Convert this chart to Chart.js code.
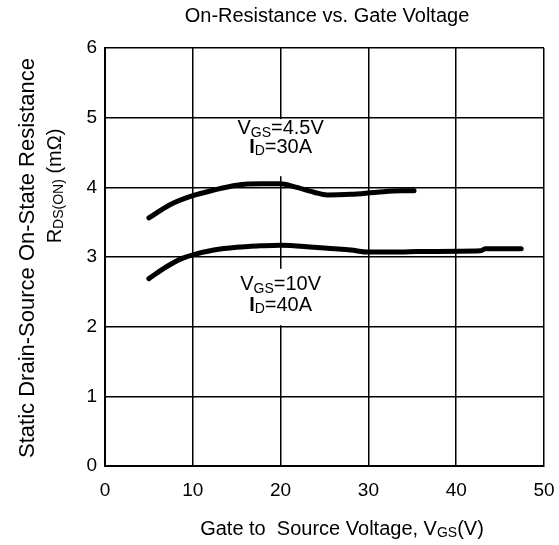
<!DOCTYPE html>
<html>
<head>
<meta charset="utf-8">
<script src="https://cdn.jsdelivr.net/npm/chart.js@4"></script>
<style>
  html, body { margin: 0; padding: 0; background: #fff; }
  #wrap { width: 559px; height: 545px; }
</style>
</head>
<body>
<div id="wrap"><canvas id="chart" width="559" height="545"></canvas></div>
<script>
// values
const vgs45_x = [5, 7.4, 10, 12.4, 15, 17.7, 20, 21.5, 23.8, 25.3, 28, 31, 33.7, 35.2];
const vgs45_r = [3.56, 3.75, 3.88, 3.96, 4.03, 4.05, 4.05, 4.01, 3.93, 3.89, 3.90, 3.93, 3.95, 3.95];

const vgs10_x = [5, 7, 8.6, 10, 12.4, 15, 17.7, 20, 23.8, 28, 30, 33.7, 35.6, 42.8, 43.3, 47.4];
const vgs10_r = [2.69, 2.86, 2.97, 3.03, 3.10, 3.14, 3.16, 3.17, 3.14, 3.10, 3.07, 3.07, 3.08, 3.09, 3.12, 3.12];

const xTicks = [0, 10, 20, 30, 40, 50];
const yTicks = [0, 1, 2, 3, 4, 5, 6];

const FONT = "'Liberation Sans', Arial, sans-serif";

const chartTitle = "On-Resistance vs. Gate Voltage";

// curve labels (text parts, with subscripts)
const curveLabels = [
  { x: 20, top: 4.98, bottom: 4.16, lines: [
    [{ t: "V" }, { t: "GS", sub: true }, { t: "=4.5V" }],
    [{ t: "I", bold: true }, { t: "D", sub: true }, { t: "=30A" }],
  ], base: [4.76, 4.5] },
  { x: 20, top: 2.83, bottom: 2.02, lines: [
    [{ t: "V" }, { t: "GS", sub: true }, { t: "=10V" }],
    [{ t: "I", bold: true }, { t: "D", sub: true }, { t: "=40A" }],
  ], base: [2.52, 2.23] },
];

function toPoints(xs, ys) {
  return xs.map((x, i) => ({ x: x, y: ys[i] }));
}

function fontFor(p, size) {
  const s = p.sub ? Math.round(size * 0.68) : size;
  return (p.bold ? "bold " : "") + s + "px " + FONT;
}

// draw text with subscripts, centred on cx
function drawRich(ctx, parts, cx, baseline, size) {
  let width = 0;
  parts.forEach((p) => {
    ctx.font = fontFor(p, size);
    width += ctx.measureText(p.t).width;
  });
  let x = cx - width / 2;
  ctx.textAlign = "left";
  ctx.textBaseline = "alphabetic";
  parts.forEach((p) => {
    ctx.font = fontFor(p, size);
    ctx.fillText(p.t, x, baseline + (p.sub ? size * 0.12 : 0));
    x += ctx.measureText(p.t).width;
  });
}

const textPlugin = {
  id: "textPlugin",
  afterDatasetsDraw(chart) {
    const ctx = chart.ctx;
    const xs = chart.scales.x;
    const ys = chart.scales.y;
    ctx.save();
    ctx.fillStyle = "#000";

    // curve labels on white boxes
    curveLabels.forEach((lab) => {
      const cx = xs.getPixelForValue(lab.x);
      const top = ys.getPixelForValue(lab.top);
      const bottom = ys.getPixelForValue(lab.bottom);
      ctx.fillStyle = "#fff";
      ctx.fillRect(cx - 55, top, 110, bottom - top);
      ctx.fillStyle = "#000";
      lab.lines.forEach((line, i) => {
        drawRich(ctx, line, cx, ys.getPixelForValue(lab.base[i]), 20);
      });
    });

    // chart title
    drawRich(ctx, [{ t: chartTitle }], 327, 22, 20);

    // x axis title
    drawRich(ctx, [
      { t: "Gate to  Source Voltage, V" }, { t: "GS", sub: true }, { t: "(V)" },
    ], 342, 535, 20);

    // y axis title, two rotated lines
    ctx.save();
    ctx.translate(34, 258);
    ctx.rotate(-Math.PI / 2);
    drawRich(ctx, [{ t: "Static Drain-Source On-State Resistance" }], 0, 0, 22);
    ctx.restore();

    ctx.save();
    ctx.translate(61, 186);
    ctx.rotate(-Math.PI / 2);
    drawRich(ctx, [{ t: "R" }, { t: "DS(ON)", sub: true }, { t: " (m\u03A9)" }], 0, 0, 20);
    ctx.restore();

    ctx.restore();
  },
};

const lineStyle = {
  borderColor: "#000",
  backgroundColor: "#000",
  borderWidth: 5,
  borderCapStyle: "round",
  borderJoinStyle: "round",
  pointRadius: 0,
  fill: false,
  cubicInterpolationMode: "monotone",
};

new Chart(document.getElementById("chart"), {
  type: "line",
  data: {
    datasets: [
      Object.assign({ label: "VGS=4.5V, ID=30A", data: toPoints(vgs45_x, vgs45_r) }, lineStyle),
      Object.assign({ label: "VGS=10V, ID=40A", data: toPoints(vgs10_x, vgs10_r) }, lineStyle),
    ],
  },
  options: {
    responsive: false,
    animation: false,
    layout: { padding: { left: 65, right: 15, top: 48, bottom: 0 } },
    plugins: {
      legend: { display: false },
      tooltip: { enabled: false },
      title: { display: false, text: chartTitle },
    },
    scales: {
      x: {
        type: "linear",
        min: 0,
        max: 50,
        afterFit: (s) => { s.height = 79; s.paddingLeft = 0; s.paddingRight = 0; },
        afterBuildTicks: (s) => { s.ticks = xTicks.map((v) => ({ value: v })); },
        ticks: { color: "#000", padding: 13, font: { family: FONT, size: 19 }, maxRotation: 0 },
        grid: { color: "#000", lineWidth: 1.5, drawTicks: false },
        border: { color: "#000", width: 2 },
      },
      y: {
        type: "linear",
        min: 0,
        max: 6,
        afterFit: (s) => { s.width = 40; s.paddingTop = 0; s.paddingBottom = 0; },
        afterBuildTicks: (s) => { s.ticks = yTicks.map((v) => ({ value: v })); },
        ticks: { color: "#000", padding: 8, font: { family: FONT, size: 19 } },
        grid: { color: "#000", lineWidth: 1.5, drawTicks: false },
        border: { color: "#000", width: 2 },
      },
    },
  },
  plugins: [textPlugin],
});
</script>
</body>
</html>
